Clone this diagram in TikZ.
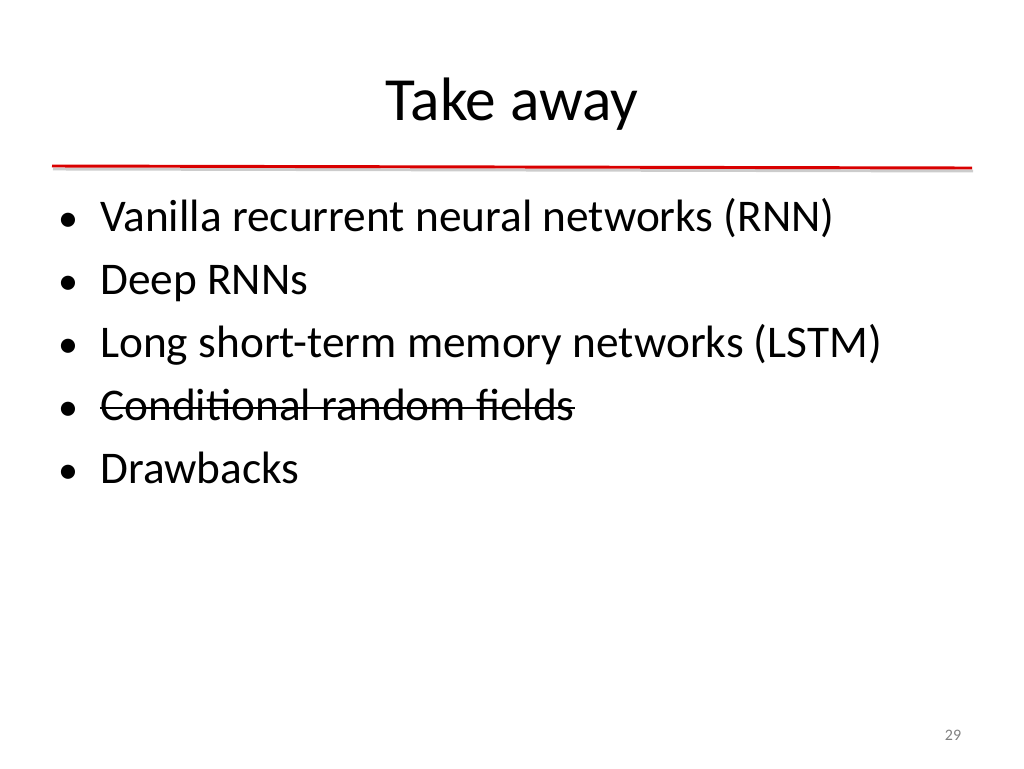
\documentclass[tikz,border=0pt]{standalone}
\usepackage{fontspec}
\setmainfont{Carlito}
\begin{document}
\begin{tikzpicture}[x=0.75pt,y=-0.75pt]
   \tikzstyle{item}=[anchor=base west, inner sep=0pt, font=\fontsize{34}{40}\selectfont]
   \tikzstyle{dot}=[anchor=base, inner sep=0pt, font=\fontsize{30}{36}\selectfont]
\useasboundingbox (0,0) rectangle (1024,768);
\node[anchor=base, inner sep=0pt, font=\fontsize{46}{54}\selectfont] (title) at (512,120) {Take away};
\draw[gray!40, line width=2.2pt] (53,169) -- (973,171);
\draw[red!85!black, line width=2.2pt] (52,166) -- (972,168);

\foreach \txt [count=\i] in {Vanilla recurrent neural networks (RNN), Deep RNNs,
    Long short-term memory networks (LSTM), Conditional random fields, Drawbacks} {
  \node[dot] (b\i) at (68,{169+62.8*\i}) {\textbullet};
  \node[item] (t\i) at (100,{169+62.8*\i}) {\txt};
}
\draw[line width=1.1pt] ([yshift=9pt]t4.base west) -- ([yshift=9pt]t4.base east);
\node[anchor=base, inner sep=0pt, font=\fontsize{12}{14}\selectfont, text=gray] (page) at (953,740) {29};
\end{tikzpicture}
\end{document}
